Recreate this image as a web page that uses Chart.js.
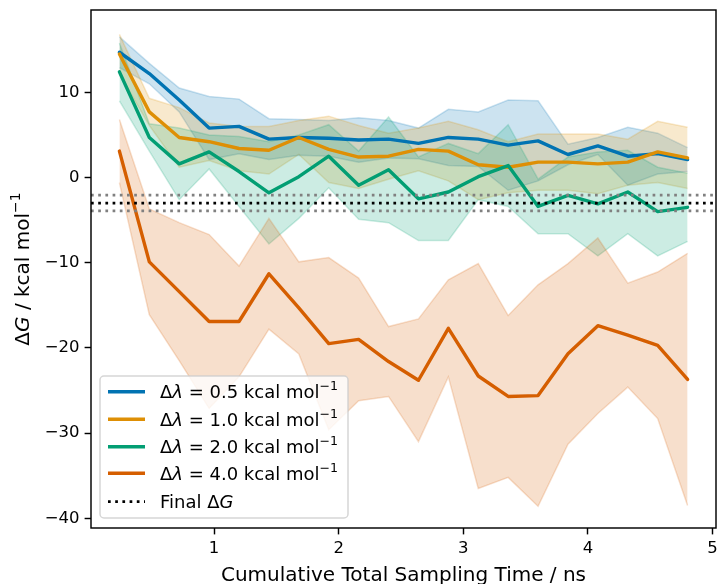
<!DOCTYPE html>
<html>
<head>
<meta charset="utf-8">
<script src="https://cdn.jsdelivr.net/npm/chart.js@4.4.1/dist/chart.umd.min.js"></script>
<style>
  html, body { margin: 0; padding: 0; background: #fff; }
  #dgChart { display: block; }
</style>
</head>
<body>
<canvas id="dgChart" width="718" height="584"></canvas>
<script>
// cumulative total sampling time (ns) at each checkpoint
var times = [0.24, 0.48, 0.72, 0.96, 1.20, 1.44, 1.68, 1.92, 2.16, 2.40,
             2.64, 2.88, 3.12, 3.36, 3.60, 3.84, 4.08, 4.32, 4.56, 4.80];

// free energy estimates (kcal/mol) and their spread, one pair per delta-lambda
var dg05 = [14.7, 12.2, 9.1, 5.8, 6.0, 4.5, 4.7, 4.6, 4.4, 4.5, 4.0, 4.7, 4.5, 3.8, 4.3, 2.7, 3.7, 2.5, 2.8, 2.1];
var sd05 = [1.8, 1.2, 1.4, 3.7, 3.2, 2.4, 2.1, 2.1, 2.6, 2.2, 1.8, 3.3, 3.2, 5.3, 4.7, 1.2, 1.0, 3.4, 2.4, 1.4];

var dg10 = [14.5, 7.7, 4.7, 4.2, 3.4, 3.2, 4.7, 3.3, 2.4, 2.5, 3.3, 3.1, 1.5, 1.2, 1.8, 1.8, 1.6, 1.8, 3.0, 2.3];
var sd10 = [2.3, 1.6, 3.5, 2.2, 2.6, 2.8, 2.0, 3.9, 3.7, 2.7, 2.5, 3.5, 4.1, 3.0, 3.3, 3.3, 3.5, 2.7, 3.6, 3.6];

var dg20 = [12.4, 4.7, 1.6, 3.0, 0.7, -1.8, 0.1, 2.5, -0.9, 0.9, -2.5, -1.7, 0.1, 1.4, -3.4, -2.1, -3.1, -1.7, -4.0, -3.5];
var sd20 = [3.4, 1.6, 4.2, 2.0, 4.1, 6.0, 4.9, 3.7, 4.0, 6.2, 4.9, 5.7, 2.7, 4.8, 3.2, 4.5, 6.1, 4.9, 5.2, 4.0];

var dg40 = [3.1, -9.9, -13.4, -16.9, -16.9, -11.3, -15.3, -19.5, -19.0, -21.6, -23.8, -17.7, -23.3, -25.7, -25.6, -20.7, -17.4, -18.5, -19.7, -23.7];
var sd40 = [3.7, 6.2, 8.1, 10.2, 6.5, 6.5, 5.4, 10.1, 7.2, 4.1, 7.2, 5.7, 13.2, 9.5, 13.0, 10.6, 10.3, 6.1, 8.6, 14.8];

var lambdas = ['0.5', '1.0', '2.0', '4.0'];
var colors = ['1,115,178', '222,143,5', '2,158,115', '213,94,0'];

// converged result and its uncertainty
var finalDG = -3.0;
var finalErr = 0.92;

var xTicks = [1, 2, 3, 4, 5];
var yTicks = [-40, -30, -20, -10, 0, 10];
var xLimits = [0.012, 5.028];
var yLimits = [-41.14, 19.66];

var FONT = '"DejaVu Sans"';
var TICK_FS = 16.5;
var LEGEND_FS = 18;
var TITLE_FS = 20;

var means = [dg05, dg10, dg20, dg40];
var sds = [sd05, sd10, sd20, sd40];

var datasets = [];
// shaded bands: upper edge fills down to the lower edge that follows it
means.forEach(function(m, k) {
  var sd = sds[k];
  var band = 'rgba(' + colors[k] + ',0.2)';
  datasets.push({
    data: times.map(function(t, i) { return {x: t, y: m[i] + sd[i]}; }),
    fill: '+1', backgroundColor: band, borderColor: band, borderWidth: 1.5,
    pointRadius: 0, order: 20 - k
  });
  datasets.push({
    data: times.map(function(t, i) { return {x: t, y: m[i] - sd[i]}; }),
    fill: false, borderColor: band, borderWidth: 1.5,
    pointRadius: 0, order: 20 - k
  });
});
means.forEach(function(m, k) {
  datasets.push({
    label: lambdas[k],
    data: times.map(function(t, i) { return {x: t, y: m[i]}; }),
    fill: false, borderColor: 'rgb(' + colors[k] + ')', borderWidth: 3.4,
    borderJoinStyle: 'round', borderCapStyle: 'round',
    pointRadius: 0, order: 10 - k
  });
});
[finalDG + finalErr, finalDG - finalErr].forEach(function(v) {
  datasets.push({
    data: [{x: xLimits[0], y: v}, {x: xLimits[1], y: v}],
    fill: false, borderColor: '#808080', borderWidth: 2.7, borderDash: [2.7, 4.5],
    pointRadius: 0, order: 2
  });
});
datasets.push({
  data: [{x: xLimits[0], y: finalDG}, {x: xLimits[1], y: finalDG}],
  fill: false, borderColor: '#000', borderWidth: 2.7, borderDash: [2.7, 4.5],
  pointRadius: 0, order: 1
});

// text pieces are [text, style] where style is '', 'i' or 'sup'
function richWidth(ctx, parts, size) {
  var w = 0;
  parts.forEach(function(p) {
    var fs = p[1] === 'sup' ? size * 0.7 : size;
    ctx.font = (p[1] === 'i' ? 'italic ' : '') + fs + 'px ' + FONT;
    w += ctx.measureText(p[0]).width;
  });
  return w;
}
function drawRich(ctx, parts, x, y, size) {
  var cx = x;
  parts.forEach(function(p) {
    var fs = p[1] === 'sup' ? size * 0.7 : size;
    ctx.font = (p[1] === 'i' ? 'italic ' : '') + fs + 'px ' + FONT;
    var dy = p[1] === 'sup' ? -size * 0.45 : 0;
    ctx.fillText(p[0], cx, y + dy);
    cx += ctx.measureText(p[0]).width;
  });
}

var decorations = {
  id: 'decorations',
  afterDraw: function(chart) {
    var ctx = chart.ctx;
    var a = chart.chartArea;
    ctx.save();
    // axes frame
    ctx.strokeStyle = '#000';
    ctx.lineWidth = 1.45;
    ctx.strokeRect(a.left, a.top, a.right - a.left, a.bottom - a.top);

    ctx.fillStyle = '#000';
    ctx.textBaseline = 'alphabetic';
    ctx.textAlign = 'left';

    // x axis title
    ctx.font = TITLE_FS + 'px ' + FONT;
    var xt = 'Cumulative Total Sampling Time / ns';
    var xw = ctx.measureText(xt).width;
    ctx.fillText(xt, (a.left + a.right) / 2 - xw / 2, 581);

    // y axis title
    var yParts = [['Δ', ''], ['G', 'i'], [' / kcal mol', ''], ['−1', 'sup']];
    var yw = richWidth(ctx, yParts, TITLE_FS);
    ctx.save();
    ctx.translate(22, (a.top + a.bottom) / 2);
    ctx.rotate(-Math.PI / 2);
    drawRich(ctx, yParts, -yw / 2, 7, TITLE_FS);
    ctx.restore();

    // legend
    var lx = 100, ly = 376, lw = 248, lh = 142, r = 4;
    ctx.beginPath();
    ctx.moveTo(lx + r, ly);
    ctx.arcTo(lx + lw, ly, lx + lw, ly + lh, r);
    ctx.arcTo(lx + lw, ly + lh, lx, ly + lh, r);
    ctx.arcTo(lx, ly + lh, lx, ly, r);
    ctx.arcTo(lx, ly, lx + lw, ly, r);
    ctx.closePath();
    ctx.fillStyle = 'rgba(255,255,255,0.8)';
    ctx.fill();
    ctx.strokeStyle = 'rgba(204,204,204,0.8)';
    ctx.lineWidth = 1.5;
    ctx.stroke();

    var rowY = [391.7, 419.3, 446.7, 473.3, 501.7];
    lambdas.forEach(function(lam, k) {
      ctx.strokeStyle = 'rgb(' + colors[k] + ')';
      ctx.lineWidth = 3.4;
      ctx.setLineDash([]);
      ctx.beginPath();
      ctx.moveTo(108, rowY[k]);
      ctx.lineTo(145, rowY[k]);
      ctx.stroke();
      ctx.fillStyle = '#000';
      drawRich(ctx, [['Δ', ''], ['λ', 'i'], [' = ' + lam + ' kcal mol', ''], ['−1', 'sup']],
               160, rowY[k] + 6.6, LEGEND_FS);
    });
    ctx.strokeStyle = '#000';
    ctx.lineWidth = 2.7;
    ctx.setLineDash([2.7, 4.5]);
    ctx.beginPath();
    ctx.moveTo(108, rowY[4]);
    ctx.lineTo(145, rowY[4]);
    ctx.stroke();
    ctx.setLineDash([]);
    drawRich(ctx, [['Final Δ', ''], ['G', 'i']], 160, rowY[4] + 6.6, LEGEND_FS);
    ctx.restore();
  }
};

function minusSign(v) {
  return String(v).replace('-', '\u2212');
}

// fixed axis boxes so the plot frame sits at a set place on the canvas
function fixBox(size) {
  return function(s) {
    if (s.isHorizontal()) { s.height = size; } else { s.width = size; }
    s.paddingLeft = 0; s.paddingRight = 0; s.paddingTop = 0; s.paddingBottom = 0;
  };
}

new Chart(document.getElementById('dgChart'), {
  type: 'line',
  data: { datasets: datasets },
  options: {
    responsive: false,
    animation: false,
    devicePixelRatio: 1,
    layout: { padding: { left: 0, right: 2, top: 10, bottom: 0 } },
    plugins: { legend: { display: false }, tooltip: { enabled: false } },
    scales: {
      x: {
        type: 'linear', min: xLimits[0], max: xLimits[1],
        afterBuildTicks: function(s) { s.ticks = xTicks.map(function(v) { return {value: v}; }); },
        afterFit: fixBox(56),
        grid: { drawOnChartArea: false, drawTicks: true, tickLength: 6.4, tickWidth: 1.45, tickColor: '#000' },
        border: { display: false },
        ticks: { color: '#000', font: { family: 'DejaVu Sans', size: TICK_FS }, padding: 4,
                 maxRotation: 0, autoSkip: false, callback: minusSign }
      },
      y: {
        type: 'linear', min: yLimits[0], max: yLimits[1],
        afterBuildTicks: function(s) { s.ticks = yTicks.map(function(v) { return {value: v}; }); },
        afterFit: fixBox(91),
        grid: { drawOnChartArea: false, drawTicks: true, tickLength: 6.4, tickWidth: 1.45, tickColor: '#000' },
        border: { display: false },
        ticks: { color: '#000', font: { family: 'DejaVu Sans', size: TICK_FS }, padding: 5,
                 autoSkip: false, callback: minusSign }
      }
    }
  },
  plugins: [decorations]
});
</script>
</body>
</html>
